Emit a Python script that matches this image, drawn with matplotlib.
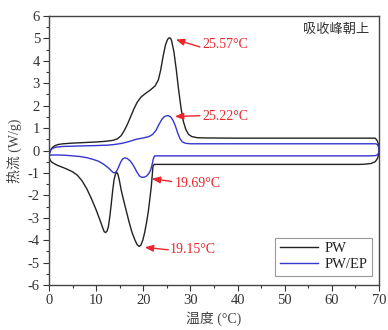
import matplotlib
matplotlib.use("Agg")
import matplotlib.pyplot as plt

plt.rcParams['font.family'] = ['Liberation Serif', 'Noto Sans CJK SC', 'DejaVu Sans']
plt.rcParams['axes.unicode_minus'] = False

# ---- data ----
pw_x = [0, 0.15, 0.4, 0.8, 1.3, 2, 3, 5, 8, 10, 12, 13.5, 14.5, 15.3, 16, 16.7, 17.3, 18, 18.7,
        19.5, 20.5, 21.5, 22.5, 23.2, 23.7, 24.2, 24.7, 25.1, 25.35, 25.57, 25.8, 26.0, 26.5,
        27.0, 27.5, 28.0, 28.5, 29.0, 29.6, 30.3, 31.5, 33, 40, 50, 60, 69.2, 69.6, 69.85, 70.0,
        69.95, 69.7, 69.2, 68.3, 67, 66,
        50, 35, 25, 22.3, 22.05, 21.9, 21.7, 21.4, 21.05, 20.7, 20.3, 19.9, 19.5, 19.15, 18.7,
        18.2, 17.6, 17.0, 16.4, 15.8, 15.3, 14.9, 14.6, 14.35, 14.1, 13.8, 13.5, 13.2, 12.9,
        12.6, 12.3, 12.0, 11.7, 11.4, 10.8, 10, 9, 8, 7, 6, 5, 4, 3, 2, 1.2, 0.6, 0.3, 0.1, 0]
pw_y = [-0.3, -0.1, 0.05, 0.15, 0.22, 0.27, 0.3, 0.33, 0.36, 0.38, 0.41, 0.45, 0.52, 0.66, 0.9,
        1.2, 1.5, 1.85, 2.15, 2.38, 2.55, 2.7, 2.88, 3.15, 3.6, 4.2, 4.7, 4.93, 5.01, 5.03, 5.0,
        4.9, 4.4, 3.6, 2.7, 1.9, 1.3, 0.95, 0.72, 0.62, 0.57, 0.56, 0.55, 0.55, 0.55, 0.55,
        0.45, 0.3, 0.05, -0.15, -0.35, -0.5, -0.58, -0.61, -0.62,
        -0.62, -0.62, -0.62, -0.62, -0.7, -1.1, -1.6, -2.15, -2.75, -3.2, -3.65, -4.0, -4.22,
        -4.28, -4.2, -3.98, -3.65, -3.2, -2.7, -2.2, -1.75, -1.3, -1.05, -0.97, -1.05, -1.3,
        -1.8, -2.4, -2.95, -3.4, -3.6, -3.66, -3.62, -3.45, -3.1, -2.65, -2.15, -1.7, -1.35,
        -1.1, -0.95, -0.85, -0.76, -0.68, -0.6, -0.52, -0.45, -0.35, -0.3]

pwep_x = [0, 0.15, 0.4, 0.8, 1.5, 3, 6, 10, 12.5, 14, 15.5, 17, 18.5, 20, 21.2, 22, 22.7, 23.3,
          23.9, 24.5, 25.22, 25.8, 26.3, 26.8, 27.3, 27.8, 28.3, 29, 30, 40, 55, 69.3, 69.7,
          69.93, 70, 69.93, 69.7, 69.2, 68,
          50, 30, 22.4, 22.15, 21.9, 21.6, 21.2, 20.7, 20.2, 19.69, 19.2, 18.7, 18.2, 17.7,
          17.2, 16.6, 16.1, 15.6, 15.2, 14.8, 14.4, 14.0, 13.6, 13.1, 12.5, 11.5, 10.5, 9.4,
          8, 6.6, 4, 2, 0.5, 0]
pwep_y = [-0.22, -0.08, 0.03, 0.1, 0.15, 0.18, 0.2, 0.22, 0.24, 0.27, 0.32, 0.4, 0.5, 0.56,
          0.62, 0.72, 0.9, 1.15, 1.38, 1.52, 1.56, 1.5, 1.35, 1.1, 0.78, 0.52, 0.38, 0.32, 0.3,
          0.3, 0.3, 0.3, 0.26, 0.15, 0.03, -0.1, -0.19, -0.23, -0.24,
          -0.24, -0.24, -0.24, -0.35, -0.6, -0.85, -1.02, -1.14, -1.19, -1.2, -1.14, -0.98,
          -0.78, -0.6, -0.46, -0.36, -0.33, -0.38, -0.52, -0.72, -0.9, -1.0, -0.98, -0.88,
          -0.76, -0.6, -0.48, -0.4, -0.32, -0.27, -0.22, -0.2, -0.2, -0.22]

series_names = ['PW', 'PW/EP']
peak_labels = ['25.57°C', '25.22°C', '19.69°C', '19.15°C']
arrow_tips = [(26.9, 4.95), (26.7, 1.52), (21.8, -1.26), (20.3, -4.32)]
arrow_tails = [(32.0, 4.62), (32.0, 1.55), (26.0, -1.38), (25.3, -4.43)]
label_pos = [(32.5, 4.72), (32.5, 1.52), (26.6, -1.45), (25.6, -4.43)]

xticks = [0, 10, 20, 30, 40, 50, 60, 70]
yticks = [6, 5, 4, 3, 2, 1, 0, -1, -2, -3, -4, -5, -6]

# ---- figure ----
fig = plt.figure(figsize=(3.88, 3.30), dpi=100)
ax = fig.add_axes([49/388, 1-285/330, 330/388, 269/330])

ax.plot(pw_x, pw_y, color='#222222', lw=1.0, label=series_names[0])
ax.plot(pwep_x, pwep_y, color='#3535d0', lw=1.0, label=series_names[1])

red = '#e8262c'
for lab, tip, tail, pos in zip(peak_labels, arrow_tips, arrow_tails, label_pos):
    ax.annotate('', xy=tip, xytext=tail,
                arrowprops=dict(arrowstyle='-|>,head_length=0.5,head_width=0.2',
                                color=red, lw=1.0, shrinkA=0, shrinkB=0))
    ax.text(pos[0], pos[1], lab, color=red, fontsize=10, ha='left', va='center')

ax.set_xlim(0, 70)
ax.set_ylim(-6, 6)
ax.set_xticks(xticks)
ax.set_yticks(yticks)
ax.set_xticks([5, 15, 25, 35, 45, 55, 65], minor=True)
ax.set_yticks([y + 0.5 for y in range(-6, 6)], minor=True)
ax.tick_params(axis='both', which='major', direction='out', length=4, width=0.8,
               labelsize=10.5, colors='#333333', top=False, right=False, pad=2.5)
ax.tick_params(axis='both', which='minor', direction='out', length=2.5, width=0.8,
               top=False, right=False, colors='#333333')
for s in ax.spines.values():
    s.set_color('#444444')
    s.set_linewidth(1.0)

ax.set_xlabel('温度 (°C)', fontsize=10, color='#444444', labelpad=3)
ax.set_ylabel('热流 (W/g)', fontsize=10, color='#444444', labelpad=4)

ax.text(0.97, 0.95, '吸收峰朝上', transform=ax.transAxes, ha='right', va='center',
        fontsize=9.5, color='#333333')

leg = ax.legend(loc='lower right', bbox_to_anchor=(0.98, 0.035), borderaxespad=0,
                fontsize=10.5, frameon=True, fancybox=False, framealpha=1,
                edgecolor='#999999', handlelength=2.6, handletextpad=0.5,
                borderpad=0.3, labelspacing=0.2)
leg.get_frame().set_linewidth(0.8)
for t in leg.get_texts():
    t.set_color('#222222')

fig.savefig('out.png', dpi=100)
